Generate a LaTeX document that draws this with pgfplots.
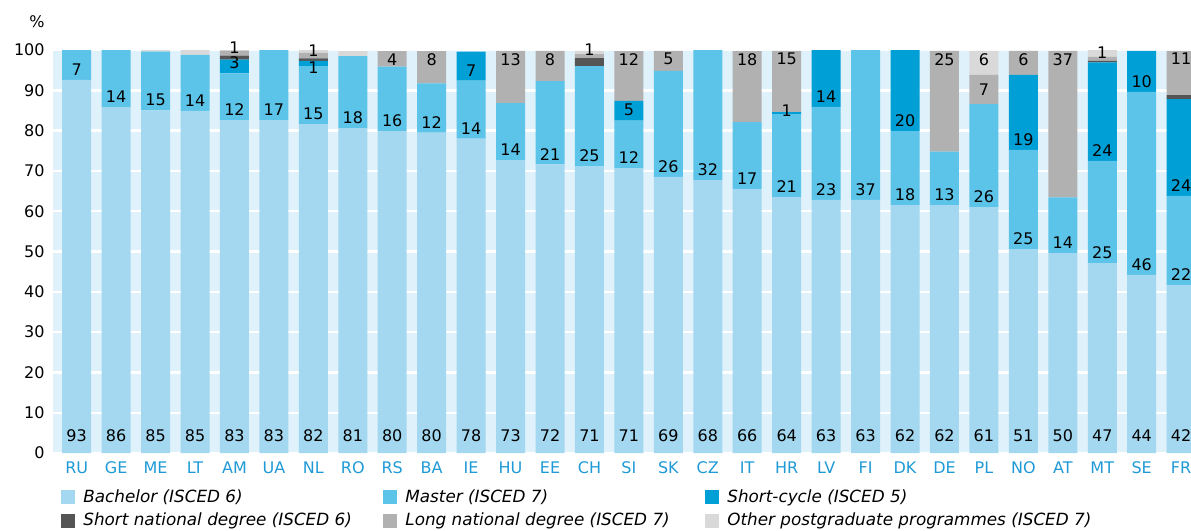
\documentclass[border=0pt]{standalone}
\usepackage{fontspec}
\setmainfont{DejaVu Sans}
\usepackage{pgfplots}
\pgfplotsset{compat=1.18}
\definecolor{bach}{HTML}{A3D8F0}
\definecolor{mast}{HTML}{5BC4E8}
\definecolor{shc}{HTML}{009FD6}
\definecolor{snd}{HTML}{555555}
\definecolor{lnd}{HTML}{B1B1B1}
\definecolor{oth}{HTML}{D9D9D9}
\definecolor{bgblue}{HTML}{DFF1FA}
\definecolor{xlab}{HTML}{1F9AD6}
\newcommand{\lab}[1]{\makebox[146pt][l]{#1}}
\pgfplotsset{
  geom/.style={scale only axis, width=569pt, height=201.5pt,
    xmin=-0.6, xmax=28.25, ymin=0, ymax=100, bar width=0.735, clip=false},
}
\begin{document}
\begin{tikzpicture}
\begin{axis}[
  geom,
  ybar stacked,
  xtick={0,...,28},
  xticklabels={RU,GE,ME,LT,AM,UA,NL,RO,RS,BA,IE,HU,EE,CH,SI,SK,CZ,IT,HR,LV,FI,DK,DE,PL,NO,AT,MT,SE,FR},
  ytick={0,10,...,100},
  /pgf/number format/assume math mode=true,
  axis line style={draw=none}, major tick length=0pt, tick style={draw=none},
  ymajorgrids, grid style={white, line width=1.2pt},
  axis background/.style={fill=bgblue},
  x tick label style={font=\fontsize{8}{9.6}\selectfont, text=xlab, inner sep=0pt, yshift=-4.3pt},
  y tick label style={font=\fontsize{8}{9.6}\selectfont, inner sep=0pt, xshift=-4pt},
  legend columns=3,
  legend cell align=left,
  legend style={at={(rel axis cs:0,0)}, anchor=north west, xshift=4pt, yshift=-18pt, draw=none, fill=none, inner sep=0pt, column sep=0pt, row sep=4pt, font=\fontsize{8.4}{10}\selectfont\itshape, nodes={inner xsep=4pt, inner ysep=0pt}},
  legend image code/.code={\fill[#1] (0pt,-3.5pt) rectangle (7pt,3.5pt);},
]
% Bachelor (ISCED 6)
\addplot[fill=bach, draw=none] coordinates {
(0,92.6) (1,85.8) (2,85.0) (3,84.9) (4,82.6) (5,82.6) (6,81.6) (7,80.6) (8,79.9) (9,79.5)
(10,78.0) (11,72.7) (12,71.6) (13,71.2) (14,70.7) (15,68.5) (16,67.7) (17,65.5) (18,63.5) (19,62.8)
(20,62.8) (21,61.5) (22,61.5) (23,61.0) (24,50.6) (25,49.6) (26,47.1) (27,44.2) (28,41.7)};
\addlegendentry{\lab{Bachelor (ISCED 6)}}
% Master (ISCED 7)
\addplot[fill=mast, draw=none] coordinates {
(0,7.4) (1,14.2) (2,14.6) (3,13.9) (4,11.6) (5,17.4) (6,14.4) (7,17.9) (8,16.0) (9,12.2)
(10,14.4) (11,14.1) (12,20.7) (13,24.8) (14,11.8) (15,26.3) (16,32.3) (17,16.6) (18,20.6) (19,23.1)
(20,37.2) (21,18.4) (22,13.3) (23,25.6) (24,24.6) (25,13.8) (26,25.4) (27,45.4) (28,22.1)};
\addlegendentry{\lab{Master (ISCED 7)}}
% Short-cycle (ISCED 5)
\addplot[fill=shc, draw=none] coordinates {
(0,0) (1,0) (2,0) (3,0) (4,3.4) (5,0) (6,1.3) (7,0) (8,0) (9,0)
(10,7.2) (11,0) (12,0) (13,0) (14,4.9) (15,0) (16,0) (17,0) (18,0.5) (19,14.1)
(20,0) (21,20.1) (22,0) (23,0) (24,18.6) (25,0) (26,24.4) (27,10.2) (28,24.0)};
\addlegendentry{\lab{Short-cycle (ISCED 5)}}
% Short national degree (ISCED 6)
\addplot[fill=snd, draw=none] coordinates {
(0,0) (1,0) (2,0) (3,0) (4,1.0) (5,0) (6,0.6) (7,0) (8,0) (9,0)
(10,0) (11,0) (12,0) (13,2.0) (14,0) (15,0) (16,0) (17,0) (18,0) (19,0)
(20,0) (21,0) (22,0) (23,0) (24,0) (25,0) (26,0.4) (27,0) (28,1.0)};
\addlegendentry{\lab{Short national degree (ISCED 6)}}
% Long national degree (ISCED 7)
\addplot[fill=lnd, draw=none] coordinates {
(0,0) (1,0) (2,0) (3,0) (4,1.2) (5,0) (6,1.4) (7,0) (8,3.8) (9,8.0)
(10,0) (11,13.0) (12,7.5) (13,1.0) (14,12.3) (15,5.0) (16,0) (17,17.6) (18,15.2) (19,0)
(20,0) (21,0) (22,25.0) (23,7.2) (24,6.0) (25,36.4) (26,1.0) (27,0) (28,11.0)};
\addlegendentry{\lab{Long national degree (ISCED 7)}}
% Other postgraduate programmes (ISCED 7)
\addplot[fill=oth, draw=none] coordinates {
(0,0) (1,0) (2,0.4) (3,1.2) (4,0.2) (5,0) (6,0.7) (7,1.2) (8,0) (9,0)
(10,0) (11,0) (12,0) (13,0.8) (14,0) (15,0) (16,0) (17,0) (18,0) (19,0)
(20,0) (21,0) (22,0) (23,6.0) (24,0) (25,0) (26,1.7) (27,0) (28,0)};
\addlegendentry{\lab{Other postgraduate programmes (ISCED 7)}}
\coordinate (bl) at (rel axis cs:0,0);
\coordinate (tr) at (rel axis cs:1,1);
\node[anchor=east, inner sep=0pt, font=\fontsize{8}{9.6}\selectfont] at ([xshift=-4pt, yshift=14.2pt]rel axis cs:0,1) {\%};
\end{axis}
% ---- second, hidden axis with the value labels ----
\begin{axis}[
  geom, hide axis,
  ybar, bar shift=0pt,
  lbl/.style={fill=none, draw=none, bar shift=0pt, nodes near coords, point meta=explicit symbolic,
    every node near coord/.style={font=\fontsize{8}{9.6}\selectfont, anchor=south, inner sep=0pt, yshift=2pt, text=black}},
  lbltop/.style={lbl, every node near coord/.append style={anchor=north, yshift=-3pt}},
]
% Bachelor labels at the bar foot
\addplot[lbl, every node near coord/.append style={yshift=3.3pt}] coordinates {
(0,0)[93] (1,0)[86] (2,0)[85] (3,0)[85] (4,0)[83] (5,0)[83] (6,0)[82] (7,0)[81] (8,0)[80] (9,0)[80]
(10,0)[78] (11,0)[73] (12,0)[72] (13,0)[71] (14,0)[71] (15,0)[69] (16,0)[68] (17,0)[66] (18,0)[64] (19,0)[63]
(20,0)[63] (21,0)[62] (22,0)[62] (23,0)[61] (24,0)[51] (25,0)[50] (26,0)[47] (27,0)[44] (28,0)[42]};
% Master labels, at the foot of the Master segment
\addplot[lbl] coordinates {
(0,92.6)[7] (1,85.8)[14] (2,85.0)[15] (3,84.9)[14] (4,82.6)[12] (5,82.6)[17] (6,81.6)[15] (7,80.6)[18] (8,79.9)[16] (9,79.5)[12]
(10,78.0)[14] (11,72.7)[14] (12,71.6)[21] (13,71.2)[25] (14,70.7)[12] (15,68.5)[26] (16,67.7)[32] (17,65.5)[17] (18,63.5)[21] (19,62.8)[23]
(20,62.8)[37] (21,61.5)[18] (22,61.5)[13] (23,61.0)[26] (24,50.6)[25] (25,49.6)[14] (26,47.1)[25] (27,44.2)[46] (28,41.7)[22]};
% Short-cycle labels
\addplot[lbl] coordinates {
(4,94.2)[3] (10,92.4)[7] (14,82.5)[5] (19,85.9)[14] (21,79.9)[20] (24,75.2)[19] (26,72.5)[24] (27,89.6)[10] (28,63.8)[24]};
\addplot[lbl, every node near coord/.append style={yshift=-3.5pt}] coordinates {(18,84.1)[1]};
\addplot[lbl, every node near coord/.append style={yshift=-6pt}] coordinates {(6,96.0)[1]};
% Long national degree, thin segments: label sits on the segment
\addplot[lbl, every node near coord/.append style={yshift=-1pt}] coordinates {
(4,98.6)[1] (6,97.9)[1] (13,98.0)[1] (26,97.3)[1]};
% Long national degree, large segments: label under the segment top
\addplot[lbltop] coordinates {
(8,99.7)[4] (9,99.7)[8] (11,99.8)[13] (12,99.8)[8] (14,99.7)[12] (15,99.8)[5]
(17,99.7)[18] (18,99.8)[15] (22,99.8)[25] (24,99.8)[6] (25,99.8)[37] (28,99.8)[11]};
\addplot[lbltop, every node near coord/.append style={yshift=-3pt}] coordinates {(23,93.8)[7]};
% Other postgraduate label
\addplot[lbltop] coordinates {(23,99.8)[6]};
\end{axis}
\pgfresetboundingbox
\path[use as bounding box] ([xshift=-26.5pt,yshift=-39pt]bl) rectangle ([yshift=25pt]tr);
\end{tikzpicture}
\end{document}
